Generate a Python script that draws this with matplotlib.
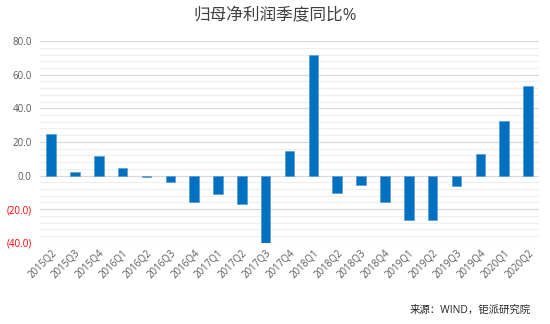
import numpy as np
import matplotlib.pyplot as plt
from matplotlib.ticker import MultipleLocator, FuncFormatter

plt.rcParams['font.family'] = ['Open Sans', 'Noto Sans CJK SC', 'DejaVu Sans']

quarters = ['2015Q2', '2015Q3', '2015Q4', '2016Q1', '2016Q2', '2016Q3', '2016Q4',
            '2017Q1', '2017Q2', '2017Q3', '2017Q4', '2018Q1', '2018Q2', '2018Q3',
            '2018Q4', '2019Q1', '2019Q2', '2019Q3', '2019Q4', '2020Q1', '2020Q2']
yoy = [24.8, 2.0, 11.4, 4.5, -1.0, -3.7, -16.0, -11.2, -16.7, -40.0, 14.8,
       71.7, -10.4, -5.7, -16.0, -26.6, -26.4, -6.5, 12.6, 32.3, 53.0]

fig = plt.figure(figsize=(5.5, 3.24), dpi=100)
ax = fig.add_axes([0.073, 0.251, 0.907, 0.622])

x = np.arange(len(quarters))
ax.bar(x, yoy, 0.4, color='#0070C0', edgecolor='#5B9BD5', linewidth=0.5, zorder=3)

ax.set_ylim(-40, 80)
ax.set_xlim(-0.46, len(quarters) - 0.54)
ax.yaxis.set_major_locator(MultipleLocator(20))
ax.yaxis.set_minor_locator(MultipleLocator(4))
ax.grid(axis='y', which='major', color='#d9d9d9', linewidth=0.8, zorder=0)
ax.grid(axis='y', which='minor', color='#eeeeee', linewidth=0.8, zorder=0)


def fmt(v, pos):
    return '(%.1f)' % abs(v) if v < 0 else '%.1f' % v


ax.yaxis.set_major_formatter(FuncFormatter(fmt))
ax.tick_params(axis='y', which='both', length=0, labelsize=7, colors='#595959', pad=6)

ax.set_xticks(x)
ax.set_xticklabels(quarters, rotation=45, ha='right', rotation_mode='anchor')
ax.tick_params(axis='x', length=0, labelsize=7, colors='#595959', pad=4)

for s in ax.spines.values():
    s.set_visible(False)

fig.text(0.5, 0.95, '归母净利润季度同比%', ha='center', va='center',
         fontsize=12, color='#404040')
fig.text(0.965, 0.043, '来源：WIND，钜派研究院', ha='right', va='center',
         fontsize=7.5, color='#262626')

# negative values shown in red, in brackets
fig.canvas.draw()
for lab in ax.get_yticklabels():
    if lab.get_text().startswith('('):
        lab.set_color('#FF0000')

fig.savefig('out.png', dpi=100)
